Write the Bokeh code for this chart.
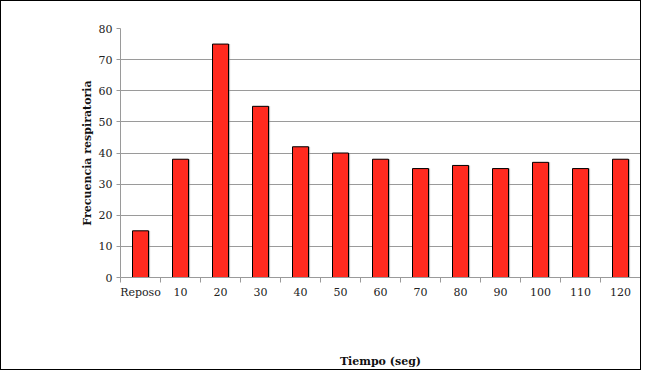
from bokeh.plotting import figure
from bokeh.models import FixedTicker, Range1d
from bokeh.embed import file_html
from bokeh.resources import INLINE

categories = ["Reposo", "10", "20", "30", "40", "50", "60", "70", "80", "90", "100", "110", "120"]
values = [15, 38, 75, 55, 42, 40, 38, 35, 36, 35, 37, 35, 38]
y_ticks = [0, 10, 20, 30, 40, 50, 60, 70, 80]

xs = list(range(len(categories)))
FONT = "DejaVu Serif"

p = figure(width=641, height=370, output_backend="svg", toolbar_location=None,
           x_range=Range1d(-0.5, len(categories) - 0.5), y_range=Range1d(0, 80),
           min_border_left=119, min_border_right=2, min_border_top=27, min_border_bottom=94)
p.styles = {"border": "1px solid #000000"}
p.outline_line_color = None

p.vbar(x=[x + 0.04 for x in xs], top=values, width=0.40, bottom=0, fill_color="#7a7a7a",
       line_color=None, fill_alpha=0.5)
p.vbar(x=xs, top=values, width=0.40, bottom=0, fill_color="#ff2a1f", line_color="#000000", line_width=1)

p.xgrid.grid_line_color = None
p.ygrid.grid_line_color = "#9a9a9a"
p.ygrid.ticker = FixedTicker(ticks=y_ticks)

p.xaxis.ticker = FixedTicker(ticks=xs, minor_ticks=[i - 0.5 for i in range(len(categories) + 1)])
p.xaxis.major_label_overrides = {i: c for i, c in enumerate(categories)}
p.xaxis.major_tick_line_color = None
p.xaxis.minor_tick_line_color = "#9a9a9a"
p.xaxis.minor_tick_in = 0
p.xaxis.minor_tick_out = 5
p.xaxis.axis_line_color = "#9a9a9a"
p.xaxis.major_label_standoff = 2
p.xaxis.axis_label = "Tiempo (seg)"
p.xaxis.axis_label_standoff = 53

p.yaxis.ticker = FixedTicker(ticks=y_ticks)
p.yaxis.minor_tick_line_color = None
p.yaxis.major_tick_line_color = "#9a9a9a"
p.yaxis.major_tick_in = 0
p.yaxis.major_tick_out = 4
p.yaxis.axis_line_color = "#9a9a9a"
p.yaxis.major_label_standoff = 4
p.yaxis.axis_label = "Frecuencia respiratoria"
p.yaxis.axis_label_standoff = 2

for ax in (p.xaxis[0], p.yaxis[0]):
    ax.major_label_text_font = FONT
    ax.major_label_text_font_size = "11px"
    ax.major_label_text_color = "#222222"
    ax.axis_label_text_font = FONT
    ax.axis_label_text_font_size = "11px"
    ax.axis_label_text_font_style = "bold"
    ax.axis_label_text_color = "#111111"

open("out.html", "w").write(file_html(p, INLINE))
